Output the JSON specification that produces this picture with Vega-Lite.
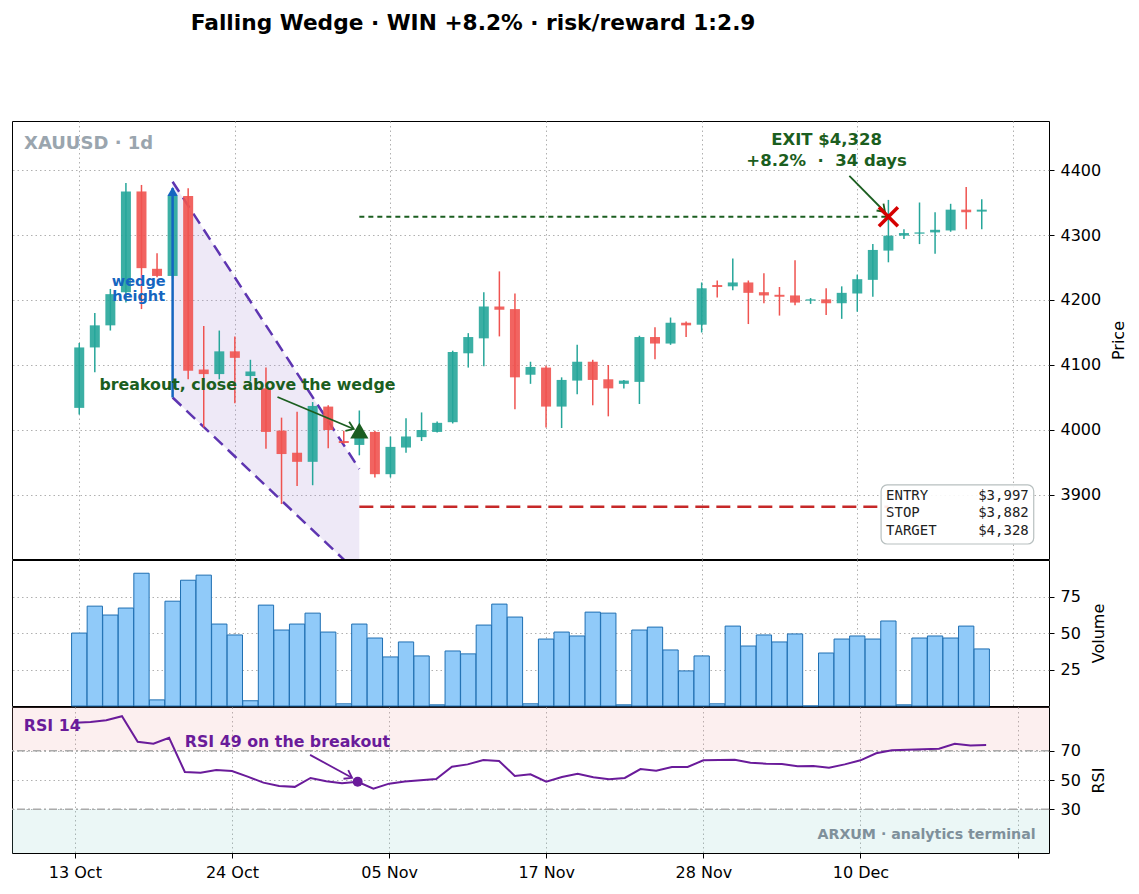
{
  "$schema": "https://vega.github.io/schema/vega-lite/v6.json",
  "background": "white",
  "padding": {"left": 10, "top": 12, "right": 0, "bottom": 0},
  "title": {"text": "Falling Wedge · WIN +8.2% · risk/reward 1:2.9", "anchor": "start", "dx": 180, "offset": 86, "font": "DejaVu Sans", "fontSize": 21.7, "fontWeight": "bold", "color": "black"},
  "config": {
    "font": "DejaVu Sans",
    "view": {"stroke": "black", "strokeWidth": 1},
    "axis": {"grid": true, "gridColor": "#b0b0b0", "gridDash": [1.5, 3], "gridWidth": 1, "domain": false, "tickColor": "black", "tickSize": 5, "labelFont": "DejaVu Sans", "labelFontSize": 16, "labelColor": "black", "titleFont": "DejaVu Sans", "titleFontSize": 16, "titleFontWeight": "normal", "titleColor": "black", "labelPadding": 6}
  },
  "datasets": {
    "ohlc": [
      {"i":0,"o":4034,"h":4134,"l":4024,"c":4127,"v":50.1,"r":89.2},
      {"i":1,"o":4127,"h":4180,"l":4089,"c":4161,"v":68.6,"r":89.8},
      {"i":2,"o":4161,"h":4217,"l":4153,"c":4209,"v":62.5,"r":91.0},
      {"i":3,"o":4212,"h":4380,"l":4196,"c":4367,"v":67.3,"r":93.7},
      {"i":4,"o":4367,"h":4377,"l":4186,"c":4249,"v":91.2,"r":76.2},
      {"i":5,"o":4248,"h":4272,"l":4235,"c":4237,"v":4.2,"r":74.8},
      {"i":6,"o":4237,"h":4372,"l":4233,"c":4360,"v":72.0,"r":78.9},
      {"i":7,"o":4360,"h":4372,"l":4078,"c":4091,"v":86.4,"r":55.5},
      {"i":8,"o":4093,"h":4160,"l":4004,"c":4086,"v":89.9,"r":55.0},
      {"i":9,"o":4086,"h":4153,"l":4078,"c":4121,"v":56.3,"r":56.9},
      {"i":10,"o":4121,"h":4144,"l":4041,"c":4111,"v":48.8,"r":56.2},
      {"i":11,"o":4083,"h":4108,"l":4075,"c":4090,"v":3.6,"r":52.3},
      {"i":12,"o":4064,"h":4096,"l":3971,"c":3997,"v":69.3,"r":48.2},
      {"i":13,"o":3999,"h":4019,"l":3886,"c":3963,"v":52.2,"r":45.9},
      {"i":14,"o":3965,"h":4028,"l":3914,"c":3951,"v":56.3,"r":45.3},
      {"i":15,"o":3951,"h":4043,"l":3915,"c":4037,"v":63.8,"r":51.4},
      {"i":16,"o":4036,"h":4038,"l":3972,"c":4000,"v":50.8,"r":49.1},
      {"i":17,"o":3983,"h":3999,"l":3979,"c":3980,"v":1.5,"r":47.8},
      {"i":18,"o":3977,"h":4030,"l":3961,"c":3997,"v":56.3,"r":48.8},
      {"i":19,"o":3997,"h":3999,"l":3927,"c":3932,"v":46.7,"r":44.1},
      {"i":20,"o":3932,"h":3990,"l":3927,"c":3974,"v":33.7,"r":47.5},
      {"i":21,"o":3973,"h":4018,"l":3965,"c":3990,"v":44.0,"r":48.9},
      {"i":22,"o":3989,"h":4027,"l":3983,"c":4000,"v":34.4,"r":49.8},
      {"i":23,"o":3997,"h":4013,"l":3996,"c":4011,"v":0.8,"r":50.7},
      {"i":24,"o":4012,"h":4122,"l":4010,"c":4120,"v":37.8,"r":59.1},
      {"i":25,"o":4118,"h":4149,"l":4096,"c":4143,"v":35.8,"r":60.7},
      {"i":26,"o":4141,"h":4212,"l":4098,"c":4190,"v":55.6,"r":63.7},
      {"i":27,"o":4190,"h":4244,"l":4144,"c":4185,"v":70.0,"r":63.0},
      {"i":28,"o":4186,"h":4210,"l":4032,"c":4081,"v":61.1,"r":52.8},
      {"i":29,"o":4085,"h":4105,"l":4071,"c":4097,"v":1.5,"r":53.9},
      {"i":30,"o":4096,"h":4099,"l":4004,"c":4036,"v":46.0,"r":48.9},
      {"i":31,"o":4036,"h":4081,"l":4003,"c":4077,"v":50.8,"r":52.1},
      {"i":32,"o":4076,"h":4131,"l":4055,"c":4105,"v":48.1,"r":54.3},
      {"i":33,"o":4105,"h":4108,"l":4038,"c":4077,"v":64.5,"r":51.9},
      {"i":34,"o":4078,"h":4100,"l":4021,"c":4064,"v":63.8,"r":50.5},
      {"i":35,"o":4071,"h":4077,"l":4064,"c":4076,"v":0.8,"r":51.4},
      {"i":36,"o":4074,"h":4145,"l":4040,"c":4143,"v":52.2,"r":57.5},
      {"i":37,"o":4143,"h":4158,"l":4109,"c":4133,"v":54.2,"r":56.4},
      {"i":38,"o":4133,"h":4173,"l":4131,"c":4165,"v":38.5,"r":58.9},
      {"i":39,"o":4165,"h":4167,"l":4143,"c":4161,"v":24.1,"r":58.9},
      {"i":40,"o":4162,"h":4227,"l":4150,"c":4218,"v":34.4,"r":63.5},
      {"i":41,"o":4223,"h":4230,"l":4204,"c":4220,"v":1.5,"r":63.7},
      {"i":42,"o":4221,"h":4264,"l":4215,"c":4227,"v":54.9,"r":63.9},
      {"i":43,"o":4227,"h":4230,"l":4163,"c":4211,"v":41.2,"r":61.8},
      {"i":44,"o":4212,"h":4241,"l":4195,"c":4207,"v":48.8,"r":61.2},
      {"i":45,"o":4208,"h":4220,"l":4176,"c":4205,"v":44.0,"r":61.0},
      {"i":46,"o":4207,"h":4261,"l":4192,"c":4196,"v":49.5,"r":59.4},
      {"i":47,"o":4199,"h":4203,"l":4194,"c":4201,"v":0,"r":59.6},
      {"i":48,"o":4201,"h":4218,"l":4177,"c":4195,"v":36.4,"r":58.4},
      {"i":49,"o":4195,"h":4221,"l":4171,"c":4211,"v":46.0,"r":60.7},
      {"i":50,"o":4210,"h":4239,"l":4182,"c":4232,"v":48.1,"r":63.5},
      {"i":51,"o":4231,"h":4286,"l":4205,"c":4277,"v":46.0,"r":68.3},
      {"i":52,"o":4276,"h":4354,"l":4258,"c":4299,"v":58.4,"r":70.3},
      {"i":53,"o":4299,"h":4309,"l":4294,"c":4303,"v":0.8,"r":70.7},
      {"i":54,"o":4302,"h":4350,"l":4286,"c":4304,"v":46.7,"r":71.0},
      {"i":55,"o":4304,"h":4335,"l":4271,"c":4308,"v":48.1,"r":71.4},
      {"i":56,"o":4307,"h":4348,"l":4305,"c":4339,"v":46.7,"r":74.8},
      {"i":57,"o":4339,"h":4374,"l":4309,"c":4335,"v":54.9,"r":73.7},
      {"i":58,"o":4336,"h":4355,"l":4309,"c":4339,"v":39.2,"r":73.9}
    ]
  },
  "spacing": -2,
  "vconcat": [
    {
      "width": 1037,
      "height": 438,
      "layer": [
        {
          "data": {"values": [{"i": 6, "up": 4382, "lo": 4050}, {"i": 18, "up": 3940, "lo": 3778}]},
          "mark": {"type": "area", "clip": true, "color": "#b39ddb", "opacity": 0.22},
          "encoding": {
            "x": {"field": "i", "type": "quantitative", "scale": {"domain": [-4, 62], "nice": false, "zero": false}, "axis": {"values": [0, 10, 20, 30, 40, 50, 60], "labels": false, "ticks": false, "title": null}},
            "y": {"field": "up", "type": "quantitative", "scale": {"domain": [3801.5, 4475.4], "nice": false, "zero": false}, "axis": {"orient": "right", "values": [3900, 4000, 4100, 4200, 4300, 4400], "format": "d", "title": "Price", "titleAngle": 270, "titlePadding": 26}},
            "y2": {"field": "lo"}
          }
        },
        {
          "data": {"values": [{"line": "upper", "i": 6, "p": 4382}, {"line": "upper", "i": 18, "p": 3940}, {"line": "lower", "i": 6, "p": 4050}, {"line": "lower", "i": 18, "p": 3778}]},
          "mark": {"type": "line", "clip": true, "color": "#5e35b1", "strokeWidth": 2.5, "strokeDash": [12, 7]},
          "encoding": {
            "x": {"field": "i", "type": "quantitative"},
            "y": {"field": "p", "type": "quantitative"},
            "detail": {"field": "line"}
          }
        },
        {
          "data": {"values": [{"i0": 18, "i1": 52, "p": 3882}]},
          "mark": {"type": "rule", "color": "#c62828", "strokeWidth": 2.5, "strokeDash": [14, 7]},
          "encoding": {"x": {"field": "i0", "type": "quantitative"}, "x2": {"field": "i1"}, "y": {"field": "p", "type": "quantitative"}}
        },
        {
          "data": {"values": [{"i0": 18, "i1": 52, "p": 4328}]},
          "mark": {"type": "rule", "color": "#1b5e20", "strokeWidth": 2, "strokeDash": [5, 4]},
          "encoding": {"x": {"field": "i0", "type": "quantitative"}, "x2": {"field": "i1"}, "y": {"field": "p", "type": "quantitative"}}
        },
        {
          "data": {"name": "ohlc"},
          "mark": {"type": "rule", "strokeWidth": 1.5},
          "encoding": {
            "x": {"field": "i", "type": "quantitative"},
            "y": {"field": "l", "type": "quantitative"},
            "y2": {"field": "h"},
            "color": {"condition": {"test": "datum.c >= datum.o", "value": "#26a69a"}, "value": "#ef5350"}
          }
        },
        {
          "data": {"name": "ohlc"},
          "mark": {"type": "bar", "width": 10, "opacity": 0.9},
          "encoding": {
            "x": {"field": "i", "type": "quantitative"},
            "y": {"field": "o", "type": "quantitative"},
            "y2": {"field": "c"},
            "color": {"condition": {"test": "datum.c >= datum.o", "value": "#26a69a"}, "value": "#ef5350"}
          }
        },
        {
          "data": {"values": [{"i0": 6, "p0": 4050, "p1": 4372}]},
          "mark": {"type": "rule", "color": "#1565c0", "strokeWidth": 2.5},
          "encoding": {"x": {"field": "i0", "type": "quantitative"}, "y": {"field": "p0", "type": "quantitative"}, "y2": {"field": "p1"}}
        },
        {
          "data": {"values": [{"i": 6, "p": 4367}]},
          "mark": {"type": "point", "shape": "triangle-up", "filled": true, "size": 110, "color": "#1565c0", "opacity": 1},
          "encoding": {"x": {"field": "i", "type": "quantitative"}, "y": {"field": "p", "type": "quantitative"}}
        },
        {
          "data": {"values": [{"i": 3.82, "p": 4228, "t": "wedge"}, {"i": 3.82, "p": 4204, "t": "height"}]},
          "mark": {"type": "text", "align": "center", "baseline": "middle", "fontSize": 14.5, "fontWeight": "bold", "color": "#1565c0"},
          "encoding": {"x": {"field": "i", "type": "quantitative"}, "y": {"field": "p", "type": "quantitative"}, "text": {"field": "t"}}
        },
        {
          "data": {"values": [{"i0": 12.74, "p0": 4050.8, "i1": 17.64, "p1": 4001.5}]},
          "mark": {"type": "rule", "color": "#1b5e20", "strokeWidth": 1.8},
          "encoding": {"x": {"field": "i0", "type": "quantitative"}, "y": {"field": "p0", "type": "quantitative"}, "x2": {"field": "i1"}, "y2": {"field": "p1"}}
        },
        {
          "data": {"values": [{"i": 17.64, "p": 4001.5}]},
          "mark": {"type": "point", "shape": "M-1,-0.7L0,0L-1,0.7", "filled": false, "size": 196, "strokeWidth": 1.8, "color": "#1b5e20", "angle": 22.6, "opacity": 1},
          "encoding": {"x": {"field": "i", "type": "quantitative"}, "y": {"field": "p", "type": "quantitative"}}
        },
        {
          "data": {"values": [{"i": 1.3, "p": 4069, "t": "breakout, close above the wedge"}]},
          "mark": {"type": "text", "align": "left", "baseline": "middle", "fontSize": 15.8, "fontWeight": "bold", "color": "#1b5e20"},
          "encoding": {"x": {"field": "i", "type": "quantitative"}, "y": {"field": "p", "type": "quantitative"}, "text": {"field": "t"}}
        },
        {
          "data": {"values": [{"i": 18, "p": 3999}]},
          "mark": {"type": "point", "shape": "triangle-up", "filled": true, "size": 330, "color": "#1b5e20", "opacity": 1},
          "encoding": {"x": {"field": "i", "type": "quantitative"}, "y": {"field": "p", "type": "quantitative"}}
        },
        {
          "data": {"values": [{"i0": 49.49, "p0": 4390.8, "i1": 51.78, "p1": 4335.4}]},
          "mark": {"type": "rule", "color": "#1b5e20", "strokeWidth": 1.8},
          "encoding": {"x": {"field": "i0", "type": "quantitative"}, "y": {"field": "p0", "type": "quantitative"}, "x2": {"field": "i1"}, "y2": {"field": "p1"}}
        },
        {
          "data": {"values": [{"i": 51.78, "p": 4335.4}]},
          "mark": {"type": "point", "shape": "M-1,-0.7L0,0L-1,0.7", "filled": false, "size": 196, "strokeWidth": 1.8, "color": "#1b5e20", "angle": 45, "opacity": 1},
          "encoding": {"x": {"field": "i", "type": "quantitative"}, "y": {"field": "p", "type": "quantitative"}}
        },
        {
          "data": {"values": [{"i": 52, "p": 4328}]},
          "mark": {"type": "point", "shape": "M-1,-1L1,1M-1,1L1,-1", "filled": false, "size": 361, "strokeWidth": 3.5, "color": "#d50000", "opacity": 1},
          "encoding": {"x": {"field": "i", "type": "quantitative"}, "y": {"field": "p", "type": "quantitative"}}
        },
        {
          "data": {"values": [{"i": 48.03, "p": 4446, "t": "EXIT $4,328"}, {"i": 48.03, "p": 4413.8, "t": "+8.2%\u00a0\u00a0·\u00a0\u00a034 days"}]},
          "mark": {"type": "text", "align": "center", "baseline": "middle", "fontSize": 16.5, "fontWeight": "bold", "color": "#1b5e20"},
          "encoding": {"x": {"field": "i", "type": "quantitative"}, "y": {"field": "p", "type": "quantitative"}, "text": {"field": "t"}}
        },
        {
          "data": {"values": [{"i": -3.55, "p": 4440, "t": "XAUUSD · 1d"}]},
          "mark": {"type": "text", "align": "left", "baseline": "middle", "fontSize": 18, "fontWeight": "bold", "color": "#9aa5ae"},
          "encoding": {"x": {"field": "i", "type": "quantitative"}, "y": {"field": "p", "type": "quantitative"}, "text": {"field": "t"}}
        },
        {
          "data": {"values": [{"i0": 51.53, "i1": 61.34, "p0": 3824.6, "p1": 3915.4}]},
          "mark": {"type": "rect", "fill": "white", "fillOpacity": 0.9, "stroke": "#b8c0c0", "strokeWidth": 1.2, "cornerRadius": 6},
          "encoding": {"x": {"field": "i0", "type": "quantitative"}, "x2": {"field": "i1"}, "y": {"field": "p0", "type": "quantitative"}, "y2": {"field": "p1"}}
        },
        {
          "data": {"values": [{"i": 51.85, "p": 3899, "t": "ENTRY"}, {"i": 51.85, "p": 3872, "t": "STOP"}, {"i": 51.85, "p": 3844.6, "t": "TARGET"}]},
          "mark": {"type": "text", "align": "left", "baseline": "middle", "font": "DejaVu Sans Mono", "fontSize": 14, "color": "#222222"},
          "encoding": {"x": {"field": "i", "type": "quantitative"}, "y": {"field": "p", "type": "quantitative"}, "text": {"field": "t"}}
        },
        {
          "data": {"values": [{"i": 61.02, "p": 3899, "t": "$3,997"}, {"i": 61.02, "p": 3872, "t": "$3,882"}, {"i": 61.02, "p": 3844.6, "t": "$4,328"}]},
          "mark": {"type": "text", "align": "right", "baseline": "middle", "font": "DejaVu Sans Mono", "fontSize": 14, "color": "#222222"},
          "encoding": {"x": {"field": "i", "type": "quantitative"}, "y": {"field": "p", "type": "quantitative"}, "text": {"field": "t"}}
        }
      ]
    },
    {
      "width": 1037,
      "height": 146,
      "data": {"name": "ohlc"},
      "mark": {"type": "bar", "width": 15.3, "fill": "#90caf9", "stroke": "#1f6fb2", "strokeWidth": 1},
      "encoding": {
        "x": {"field": "i", "type": "quantitative", "scale": {"domain": [-4, 62], "nice": false, "zero": false}, "axis": {"values": [0, 10, 20, 30, 40, 50, 60], "labels": false, "ticks": false, "title": null}},
        "y": {"field": "v", "type": "quantitative", "scale": {"domain": [0, 100.3], "nice": false}, "axis": {"orient": "right", "values": [25, 50, 75], "title": "Volume", "titleAngle": 270, "titlePadding": 26}}
      }
    },
    {
      "width": 1037,
      "height": 146,
      "layer": [
        {
          "data": {"values": [{"lo": 70, "hi": 100, "k": "ob"}, {"lo": 0, "hi": 30, "k": "os"}]},
          "mark": {"type": "rect", "opacity": 0.16},
          "encoding": {
            "y": {"field": "lo", "type": "quantitative", "scale": {"domain": [0, 100], "nice": false}, "axis": {"orient": "right", "values": [30, 50, 70], "title": "RSI", "titleAngle": 270, "titlePadding": 26}},
            "y2": {"field": "hi"},
            "color": {"field": "k", "type": "nominal", "scale": {"domain": ["ob", "os"], "range": ["#ef9a9a", "#80cbc4"]}, "legend": null}
          }
        },
        {
          "data": {"values": [{"y": 70}, {"y": 30}]},
          "mark": {"type": "rule", "color": "#aaaaaa", "strokeWidth": 1.5, "strokeDash": [8, 3, 2, 3]},
          "encoding": {"y": {"field": "y", "type": "quantitative"}}
        },
        {
          "data": {"name": "ohlc"},
          "mark": {"type": "line", "color": "#6a1b9a", "strokeWidth": 2},
          "encoding": {
            "x": {"field": "i", "type": "quantitative", "scale": {"domain": [-4, 62], "nice": false, "zero": false}, "axis": {"values": [0, 10, 20, 30, 40, 50, 60], "title": null, "labelExpr": "['13 Oct','24 Oct','05 Nov','17 Nov','28 Nov','10 Dec',''][round(datum.value/10)]"}},
            "y": {"field": "r", "type": "quantitative"}
          }
        },
        {
          "data": {"name": "ohlc"},
          "transform": [{"filter": "datum.i == 18"}],
          "mark": {"type": "point", "shape": "circle", "filled": true, "size": 100, "color": "#6a1b9a", "opacity": 1},
          "encoding": {"x": {"field": "i", "type": "quantitative"}, "y": {"field": "r", "type": "quantitative"}}
        },
        {
          "data": {"values": [{"i0": 14.97, "r0": 67.2, "i1": 17.64, "r1": 51.5}]},
          "mark": {"type": "rule", "color": "#6a1b9a", "strokeWidth": 1.8},
          "encoding": {"x": {"field": "i0", "type": "quantitative"}, "y": {"field": "r0", "type": "quantitative"}, "x2": {"field": "i1"}, "y2": {"field": "r1"}}
        },
        {
          "data": {"values": [{"i": 17.64, "r": 51.5}]},
          "mark": {"type": "point", "shape": "M-1,-0.7L0,0L-1,0.7", "filled": false, "size": 196, "strokeWidth": 1.8, "color": "#6a1b9a", "angle": 28.7, "opacity": 1},
          "encoding": {"x": {"field": "i", "type": "quantitative"}, "y": {"field": "r", "type": "quantitative"}}
        },
        {
          "data": {"values": [{"i": -3.25, "r": 87, "t": "RSI 14"}, {"i": 7.0, "r": 76, "t": "RSI 49 on the breakout"}]},
          "mark": {"type": "text", "align": "left", "baseline": "middle", "fontSize": 15.8, "fontWeight": "bold", "color": "#6a1b9a"},
          "encoding": {"x": {"field": "i", "type": "quantitative"}, "y": {"field": "r", "type": "quantitative"}, "text": {"field": "t"}}
        },
        {
          "data": {"values": [{"i": 61.15, "r": 12.5, "t": "ARXUM · analytics terminal"}]},
          "mark": {"type": "text", "align": "right", "baseline": "middle", "fontSize": 14.2, "fontWeight": "bold", "color": "#7f909b"},
          "encoding": {"x": {"field": "i", "type": "quantitative"}, "y": {"field": "r", "type": "quantitative"}, "text": {"field": "t"}}
        }
      ]
    }
  ]
}
